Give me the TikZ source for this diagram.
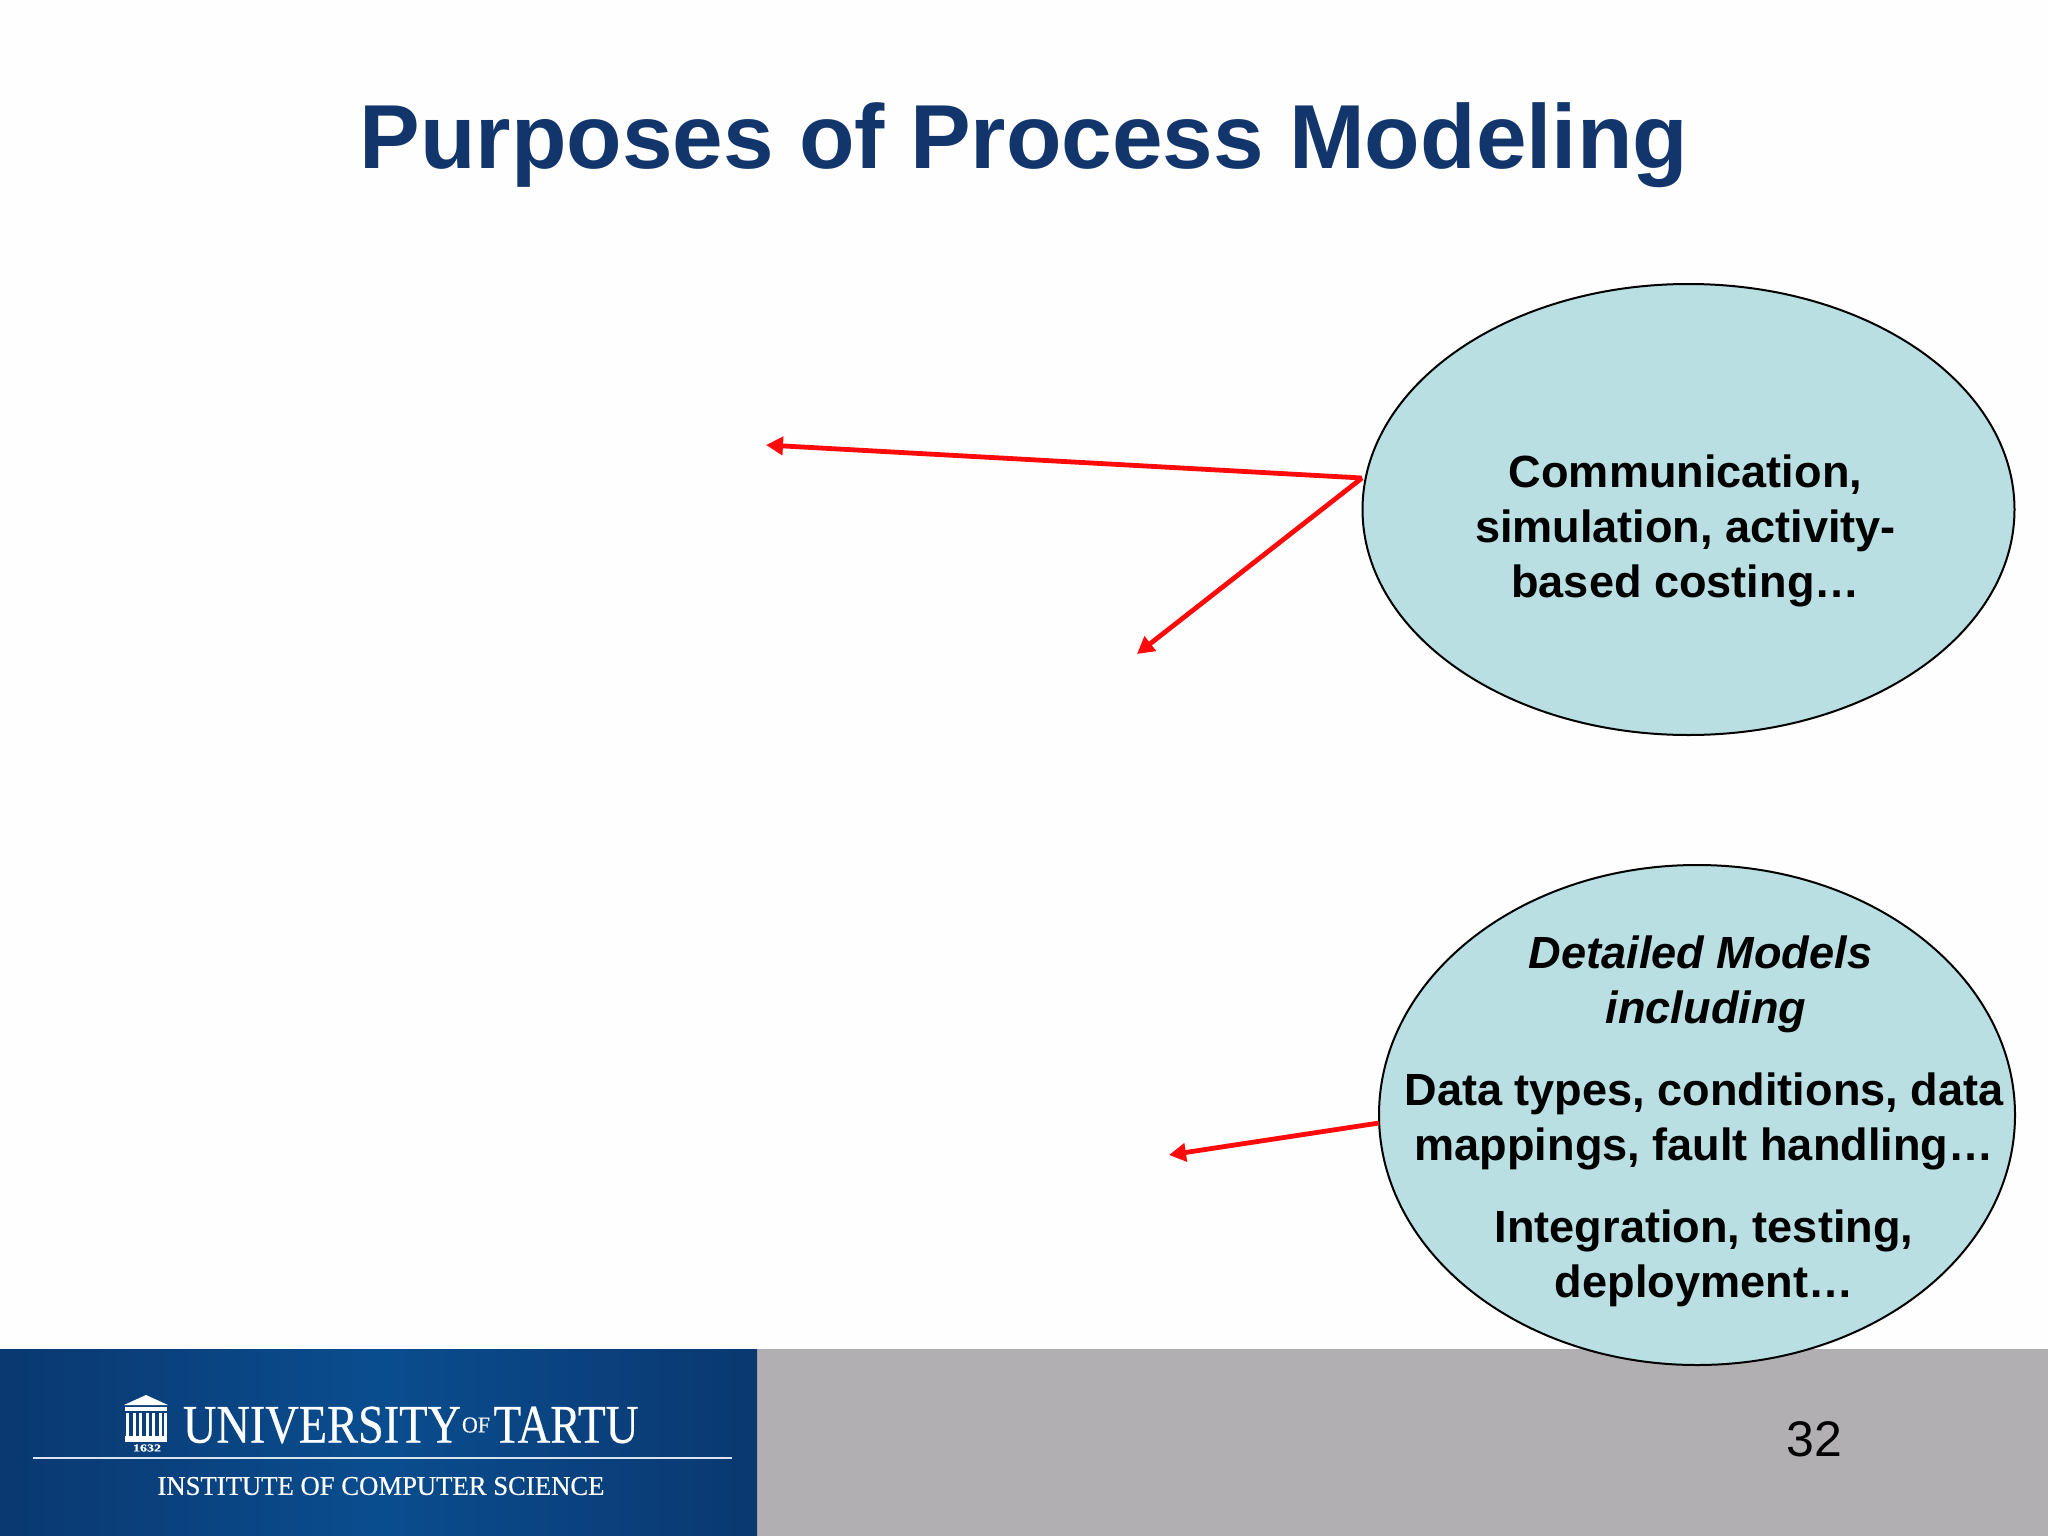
\documentclass[tikz,border=0pt]{standalone}
\usepackage{graphicx}
\usepackage{fontspec}
\setmainfont{Liberation Sans}
\newfontfamily\logofont[FakeBold=0.5]{Liberation Serif}
\usetikzlibrary{shapes.geometric,arrows.meta}
\definecolor{titleblue}{HTML}{12366B}
\definecolor{bubble}{HTML}{B9DFE3}
\definecolor{footgray}{HTML}{B1AFB2}
\definecolor{logodark}{HTML}{0A3870}
\definecolor{logomid}{HTML}{0A4D8F}
\definecolor{arrowred}{HTML}{FF0A0A}
\tikzset{
  x=1pt,y=-1pt,
  bubblenode/.style={ellipse,draw=black,line width=2pt,fill=bubble,inner sep=0pt},
  bubbletext/.style={font=\fontsize{45.1}{55}\selectfont\bfseries,align=center,inner sep=0pt,text=black},
  redarrow/.style={draw=arrowred,line width=4.8pt,-{Triangle[length=17pt,width=18pt]}},
  logotext/.style={inner sep=0pt,text=white,font=\logofont},
}
\begin{document}
\begin{tikzpicture}
\useasboundingbox (0,0) rectangle (2048,1536);
\fill[white!99.5!black] (0,0) rectangle (2048,1536);
% footer
\fill[footgray] (757,1349) rectangle (2048,1536);
\shade[left color=logodark,right color=logodark,middle color=logomid] (0,1349) rectangle (757,1536);
% title
\node[inner sep=0pt,text=titleblue,font=\fontsize{90.9}{100}\selectfont\bfseries] (title) at (1024,145) {Purposes of Process Modeling};
% bubbles
\node[bubblenode,minimum width=652pt,minimum height=451pt] (top) at (1688.5,509.5) {};
\node[bubblenode,minimum width=636pt,minimum height=500pt] (bottom) at (1697,1115) {};
\node[bubbletext] (toptext) at (1685.5,531) {Communication,\\simulation, activity-\\based costing\dots};
\node[bubbletext,font=\fontsize{45.1}{55}\selectfont\bfseries\itshape] (detail) at (1700.5,984) {Detailed Models\\\hspace*{11pt}including};
\node[bubbletext] (data) at (1704,1121.5) {Data types, conditions, data\\mappings, fault handling\dots};
\node[bubbletext] (integ) at (1704,1258.5) {Integration, testing,\\deployment\dots};
% arrows
\coordinate (s1) at (1362,478);
\coordinate (e1) at (766,445);
\coordinate (e2) at (1137,654);
\coordinate (s3) at (1379,1123);
\coordinate (e3) at (1169,1155);
\draw[redarrow] (s1) -- (e1);
\draw[redarrow] (s1) -- (e2);
\draw[redarrow] (s3) -- (e3);
% page number
\node[inner sep=0pt,font=\fontsize{50}{60}\selectfont] (num) at (1814,1439) {32};
% logo
\node[logotext] (univ) at (322,1425) {\resizebox{278pt}{36pt}{UNIVERSITY}};
\node[logotext] (of) at (476,1425) {\resizebox{28pt}{15pt}{OF}};
\node[logotext] (tartu) at (566,1425) {\resizebox{145pt}{36pt}{TARTU}};
\node[logotext] (inst) at (381,1486) {\resizebox{447pt}{18pt}{INSTITUTE OF COMPUTER SCIENCE}};
\draw[white!85!logomid,line width=2.5pt] (33,1458) -- (732,1458);
\node[logotext] (year) at (147,1448) {\resizebox{28pt}{7pt}{\bfseries 1632}};
% building
\fill[white] (146,1395) -- (168,1405) -- (124,1405) -- cycle;
\fill[white] (125,1407) rectangle (167,1411);
\foreach \xx in {126,132.5,139,145.5,152,158.5,164}{
  \fill[white] (\xx,1413) rectangle (\xx+3,1436);
}
\fill[white] (125,1436) rectangle (167,1442);
\end{tikzpicture}
\end{document}
